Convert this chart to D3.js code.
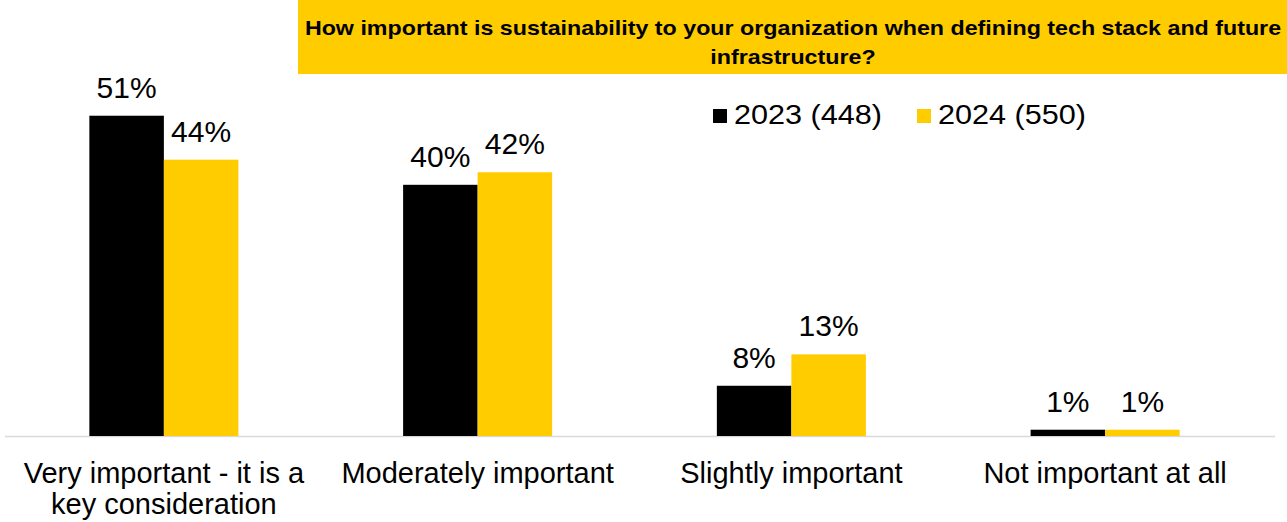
<!DOCTYPE html>
<html>
<head>
<meta charset="utf-8">
<script src="https://cdn.jsdelivr.net/npm/d3@7"></script>
<style>
  html, body { margin: 0; padding: 0; background: #fff; }
  svg { display: block; font-family: "Liberation Sans", Arial, Helvetica, sans-serif; }
</style>
</head>
<body>
<svg id="chart" width="1287" height="522"></svg>
<script>
// Survey answers and the share of respondents per year
const categories = [
  ["Very important - it is a", "key consideration"],
  ["Moderately important"],
  ["Slightly important"],
  ["Not important at all"]
];
const seriesNames = ["2023 (448)", "2024 (550)"];
const values2023 = [51, 40, 8, 1];
const values2024 = [44, 42, 13, 1];
const titleLines = [
  "How important is sustainability to your organization when defining tech stack and future",
  "infrastructure?"
];
const colors = ["#000000", "#FFCC00"];

const svg = d3.select("#chart");
const W = 1287;
const baseY = 436;

const catKeys = categories.map((c, i) => i);
const x0 = d3.scaleBand().domain(catKeys).range([7, 1262]).paddingInner(0.525).paddingOuter(0.2625);
const x1 = d3.scaleBand().domain([0, 1]).range([0, x0.bandwidth()]);
const y = d3.scaleLinear().domain([0, 60]).range([baseY, 59.2]);

const rows = catKeys.map(i => ({ i, vals: [values2023[i], values2024[i]] }));

// Title banner
svg.append("rect").attr("x", 298).attr("y", 0).attr("width", W - 298).attr("height", 74).attr("fill", "#FFCC00");
const titleG = svg.append("g");
titleLines.forEach((t, k) => {
  titleG.append("text")
    .attr("x", 793).attr("y", 35 + k * 29)
    .attr("text-anchor", "middle")
    .attr("font-size", 21).attr("font-weight", "bold")
    .attr("fill", "#000")
    .text(t);
});
// Fit the first line to the banner width
const w1 = titleG.select("text").node().getComputedTextLength();
const sx = 977 / w1;
titleG.selectAll("text").attr("transform", `translate(${793 * (1 - sx)},0) scale(${sx},1)`);

// Baseline
svg.append("line").attr("x1", 5).attr("x2", 1275).attr("y1", baseY + 0.5).attr("y2", baseY + 0.5)
  .attr("stroke", "#d9d9d9").attr("stroke-width", 1.5);

// Bars and value labels
const groups = svg.append("g").selectAll("g").data(rows).join("g")
  .attr("transform", d => `translate(${x0(d.i)},0)`);

groups.selectAll("rect").data(d => d.vals.map((v, s) => ({ v, s }))).join("rect")
  .attr("x", d => x1(d.s)).attr("width", x1.bandwidth())
  .attr("y", d => y(d.v)).attr("height", d => baseY - y(d.v))
  .attr("fill", d => colors[d.s]);

groups.selectAll("text.val").data(d => d.vals.map((v, s) => ({ v, s }))).join("text")
  .attr("class", "val")
  .attr("x", d => x1(d.s) + x1.bandwidth() / 2)
  .attr("y", d => y(d.v) - 18)
  .attr("text-anchor", "middle")
  .attr("font-size", 30).attr("fill", "#000")
  .text(d => d.v + "%");

// Category labels
const xAxisG = svg.append("g");
rows.forEach(d => {
  const cx = x0(d.i) + x0.bandwidth() / 2;
  const t = xAxisG.append("text")
    .attr("x", cx).attr("y", 483)
    .attr("text-anchor", "middle")
    .attr("font-size", 29).attr("fill", "#000");
  categories[d.i].forEach((line, k) => {
    t.append("tspan").attr("x", cx).attr("dy", k === 0 ? 0 : 31).text(line);
  });
});

// Legend
const legendX = [713, 917];
seriesNames.forEach((name, s) => {
  const g = svg.append("g").attr("transform", `translate(${legendX[s]},0)`);
  g.append("rect").attr("x", 0).attr("y", 109).attr("width", 14).attr("height", 14).attr("fill", colors[s]);
  g.append("text").attr("x", 21).attr("y", 124).attr("font-size", 28)
    .attr("textLength", 148).attr("lengthAdjust", "spacingAndGlyphs")
    .attr("fill", "#000").text(name);
});
</script>
</body>
</html>
